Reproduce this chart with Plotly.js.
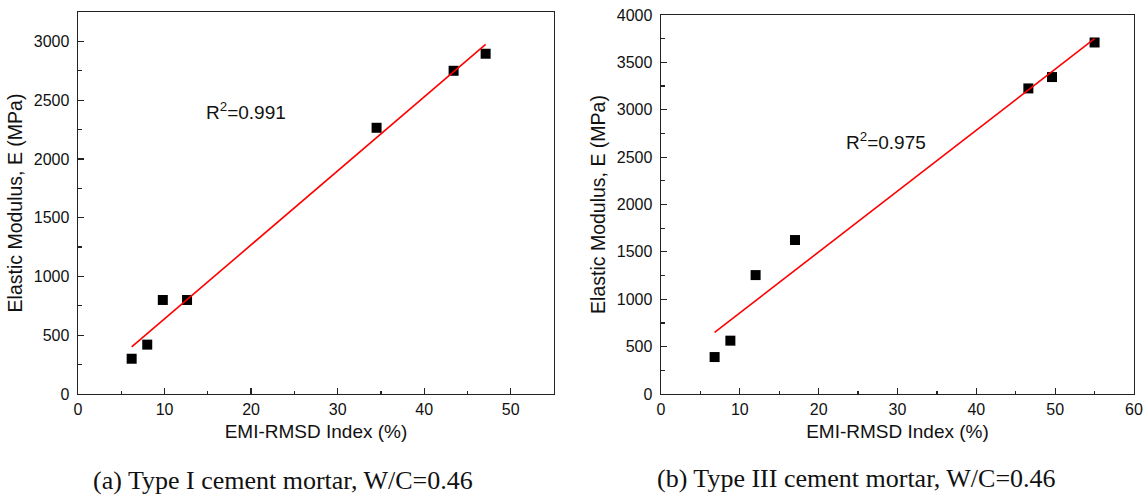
<!DOCTYPE html>
<html>
<head>
<meta charset="utf-8">
<script src="https://cdn.plot.ly/plotly-3.0.1.min.js"></script>
<style>html,body{margin:0;padding:0;background:#fff;}#chart{width:1148px;height:496px;}</style>
</head>
<body>
<div id="chart"></div>
<script>
// Panel (a): Type I cement mortar
const rmsdA = [6.2, 8.0, 9.8, 12.6, 34.5, 43.4, 47.1];
const modulusA = [300, 420, 800, 800, 2265, 2750, 2895];
const fitAx = [6.2, 47.1];
const fitAy = [400, 2975];
const r2A = "R<sup>2</sup>=0.991";

// Panel (b): Type III cement mortar
const rmsdB = [6.8, 8.8, 12.0, 17.0, 46.6, 49.6, 55.0];
const modulusB = [390, 563, 1255, 1625, 3225, 3345, 3710];
const fitBx = [6.8, 55.0];
const fitBy = [650, 3750];
const r2B = "R<sup>2</sup>=0.975";

const xTitle = "EMI-RMSD Index (%)";
const yTitle = "Elastic Modulus, E (MPa)";
const captionA = "(a) Type I cement mortar, W/C=0.46";
const captionB = "(b) Type III cement mortar, W/C=0.46";

const sans = "Liberation Sans, Arial, sans-serif";
const serif = "Liberation Serif, Times New Roman, serif";

const traces = [
  {x: rmsdA, y: modulusA, xaxis: 'x', yaxis: 'y', mode: 'markers', type: 'scatter',
   marker: {symbol: 'square', size: 10, color: '#000'}},
  {x: fitAx, y: fitAy, xaxis: 'x', yaxis: 'y', mode: 'lines', type: 'scatter',
   line: {color: '#ff0000', width: 1.6}},
  {x: rmsdB, y: modulusB, xaxis: 'x2', yaxis: 'y2', mode: 'markers', type: 'scatter',
   marker: {symbol: 'square', size: 10, color: '#000'}},
  {x: fitBx, y: fitBy, xaxis: 'x2', yaxis: 'y2', mode: 'lines', type: 'scatter',
   line: {color: '#ff0000', width: 1.6}}
];

function xAxis(domain, range, anchor) {
  return {
    domain: domain, range: range, anchor: anchor,
    showgrid: false, zeroline: false,
    showline: true, mirror: true, linecolor: '#222', linewidth: 1.4,
    ticks: 'inside', ticklen: 6, tickwidth: 1.2, tickcolor: '#222', dtick: 10, tick0: 0,
    minor: {ticks: 'inside', ticklen: 3.5, tickcolor: '#222', dtick: 5, tick0: 0},
    tickfont: {family: sans, size: 16, color: '#111'},
    title: {text: xTitle, font: {family: sans, size: 19, color: '#111'}, standoff: 8}
  };
}
function yAxis(domain, range, anchor) {
  return {
    domain: domain, range: range, anchor: anchor,
    showgrid: false, zeroline: false,
    showline: true, mirror: true, linecolor: '#222', linewidth: 1.4,
    ticks: 'inside', ticklen: 6, tickwidth: 1.2, tickcolor: '#222', dtick: 500, tick0: 0,
    minor: {ticks: 'inside', ticklen: 3.5, tickcolor: '#222', dtick: 250, tick0: 0},
    tickfont: {family: sans, size: 16, color: '#111'},
    ticklabelstandoff: 4,
    title: {text: yTitle, font: {family: sans, size: 19.5, color: '#111'}, standoff: 6}
  };
}

const layout = {
  width: 1148, height: 496,
  margin: {l: 0, r: 0, t: 0, b: 0},
  paper_bgcolor: '#fff', plot_bgcolor: '#fff',
  showlegend: false,
  xaxis: xAxis([78 / 1148, 554 / 1148], [0, 55], 'y'),
  yaxis: yAxis([102 / 496, 484 / 496], [0, 3250], 'x'),
  xaxis2: xAxis([661 / 1148, 1134 / 1148], [0, 60], 'y2'),
  yaxis2: yAxis([102 / 496, 481 / 496], [0, 4000], 'x2'),
  annotations: [
    {x: 19.4, y: 2410, xref: 'x', yref: 'y', text: r2A, showarrow: false,
     font: {family: sans, size: 19, color: '#111'}},
    {x: 28.5, y: 2670, xref: 'x2', yref: 'y2', text: r2B, showarrow: false,
     font: {family: sans, size: 19, color: '#111'}},
    {x: 283 / 1148, y: 16 / 496, xref: 'paper', yref: 'paper', text: captionA, showarrow: false,
     xanchor: 'center', yanchor: 'middle', font: {family: serif, size: 26, color: '#111'}},
    {x: 856 / 1148, y: 18 / 496, xref: 'paper', yref: 'paper', text: captionB, showarrow: false,
     xanchor: 'center', yanchor: 'middle', font: {family: serif, size: 26, color: '#111'}}
  ]
};

Plotly.newPlot('chart', traces, layout, {displayModeBar: false, staticPlot: true});
</script>
</body>
</html>
